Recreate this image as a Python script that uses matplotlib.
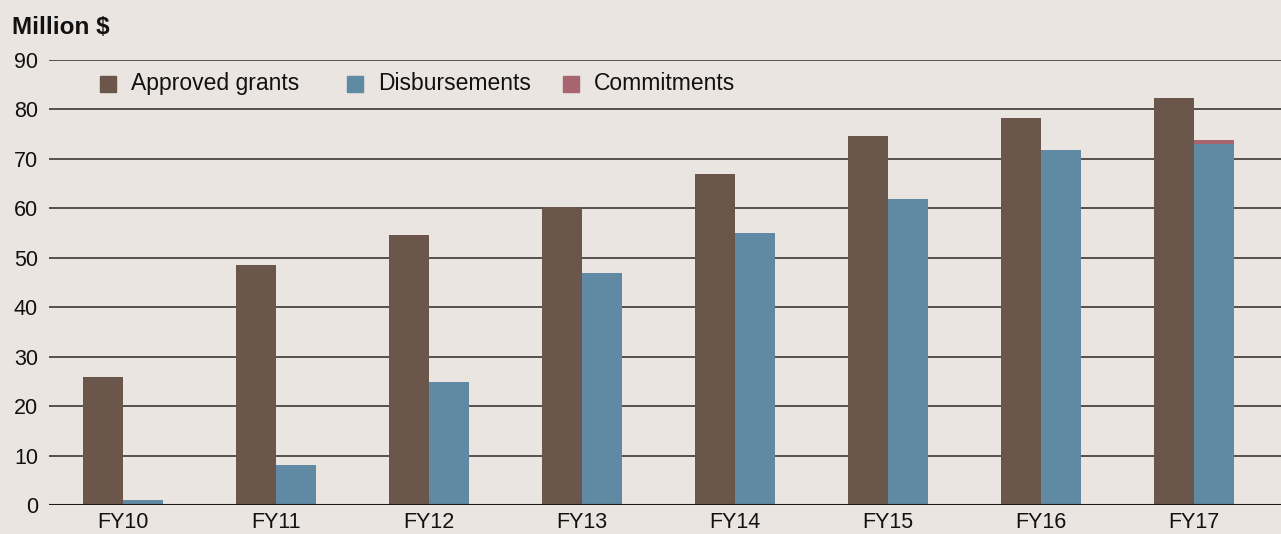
import numpy as np
import matplotlib
matplotlib.use("Agg")
import matplotlib.pyplot as plt
from matplotlib.patches import Rectangle

years = ["FY10", "FY11", "FY12", "FY13", "FY14", "FY15", "FY16", "FY17"]
approved = [25.8, 48.6, 54.7, 60.2, 67.0, 74.7, 78.3, 82.3]
disbursed = [1.0, 8.1, 24.9, 47.0, 55.1, 61.9, 71.9, 73.1]
commitments = [0, 0, 0, 0, 0, 0, 0, 0.8]

bg = "#EAE5E1"
c_appr = "#6B564B"
c_disb = "#6089A3"
c_comm = "#A86570"
fs = 15.5

plt.rcParams['font.family'] = ['Liberation Sans', 'DejaVu Sans']

fig = plt.figure(figsize=(12.81, 5.34), dpi=100, facecolor=bg)
ax = fig.add_axes([0.0383, 0.0543, 0.9617, 0.8333], facecolor=bg)

x = np.arange(len(years))
w = 0.262
ax.bar(x - w / 2, approved, w, color=c_appr, zorder=3)
ax.bar(x + w / 2, disbursed, w, color=c_disb, zorder=3)
ax.bar(x + w / 2, commitments, w, bottom=disbursed, color=c_comm, zorder=3)

ax.set_xlim(-0.484, 7.57)
ax.set_ylim(0, 90)
ax.set_yticks(range(0, 91, 10))
ax.yaxis.grid(True, color="#2a2a2a", linewidth=1.1, zorder=1)
ax.set_axisbelow(True)
for s in ax.spines.values():
    s.set_visible(False)
ax.axhline(0, color="#1a1a1a", linewidth=1.5, zorder=4)

ax.set_xticks(x)
ax.set_xticklabels(years)
ax.tick_params(axis="both", length=0, labelsize=fs, colors="#111111")
ax.tick_params(axis="y", pad=8)
ax.tick_params(axis="x", pad=5)

fig.text(12 / 1281, 1 - 27 / 534, "Million $", fontsize=17.5, fontweight="bold",
         va="center", ha="left", color="#111111")

# legend drawn by hand to match the reference's spacing
items = [("Approved grants", c_appr, 100), ("Disbursements", c_disb, 347),
         ("Commitments", c_comm, 563)]
ly = 1 - 84 / 534
for name, col, px in items:
    fig.patches.append(Rectangle((px / 1281, ly - 8 / 534), 16 / 1281, 16 / 534,
                                 transform=fig.transFigure, color=col))
    fig.text((px + 31) / 1281, ly, name, fontsize=16.5, va="center", ha="left",
             color="#111111")

fig.savefig("out.png", dpi=100, facecolor=bg)
